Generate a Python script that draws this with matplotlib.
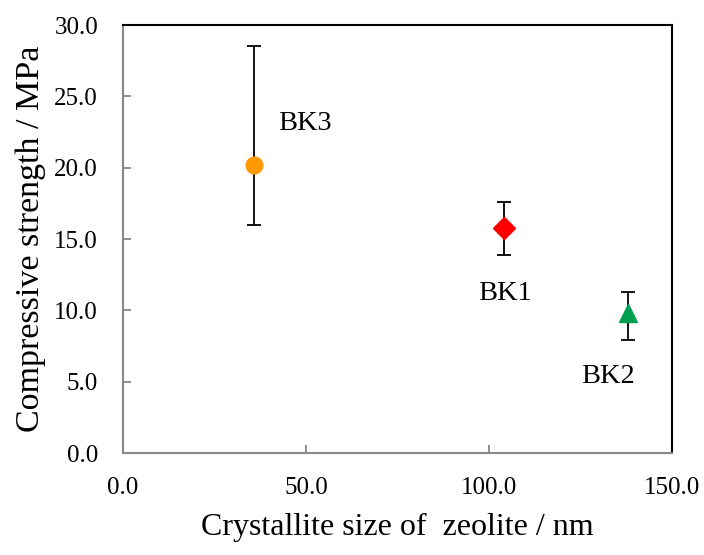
import numpy as np
import matplotlib.pyplot as plt

plt.rcParams['font.family'] = ['Liberation Serif', 'DejaVu Serif']

names = ['BK3', 'BK1', 'BK2']
size_nm = [35.8, 104.0, 138.0]
strength = [20.2, 15.8, 9.8]
err_low = [4.2, 1.9, 1.9]
err_high = [8.3, 1.8, 1.5]
markers = ['o', 'D', '^']
msizes = [12, 11, 13]
colors = ['#FF9900', '#FF0000', '#00A050']
label_pos = [(42.5, 22.2), (104.3, 10.3), (132.5, 4.5)]

fig = plt.figure(figsize=(7.04, 5.55), dpi=100)
ax = fig.add_axes([123/704, 1-453/555, (672-123)/704, (453-25)/555])

for i in range(3):
    ax.errorbar(size_nm[i], strength[i], yerr=[[err_low[i]], [err_high[i]]],
                fmt='none', ecolor='black', elinewidth=1.3, capsize=5, capthick=1.3, zorder=2)
    ax.plot(size_nm[i], strength[i], marker=markers[i], color=colors[i],
            markersize=msizes[i], linestyle='none', zorder=3)
    ax.text(label_pos[i][0], label_pos[i][1], names[i], fontsize=20.5,
            ha='left' if i == 0 else 'center', va='bottom')

ax.set_xlim(0, 150)
ax.set_ylim(0, 30)
ax.set_xticks([0, 50, 100, 150])
ax.set_yticks(np.arange(0, 31, 5))
ax.set_xticklabels(['0.0', '50.0', '100.0', '150.0'])
ax.set_yticklabels(['%.1f' % v for v in np.arange(0, 31, 5)])
ax.tick_params(direction='in', color='#888888', width=1.3, length=6, labelsize=18)
ax.tick_params(axis='x', pad=17)
ax.tick_params(axis='y', pad=18)
ax.spines['left'].set_color('#888888')
ax.spines['bottom'].set_color('#888888')
for s in ax.spines.values():
    s.set_linewidth(1.5)

ax.set_xlabel('Crystallite size of  zeolite / nm', fontsize=23, labelpad=10)
ax.set_ylabel('Compressive strength / MPa', fontsize=24.5, labelpad=6)

fig.savefig('out.png', dpi=100)
